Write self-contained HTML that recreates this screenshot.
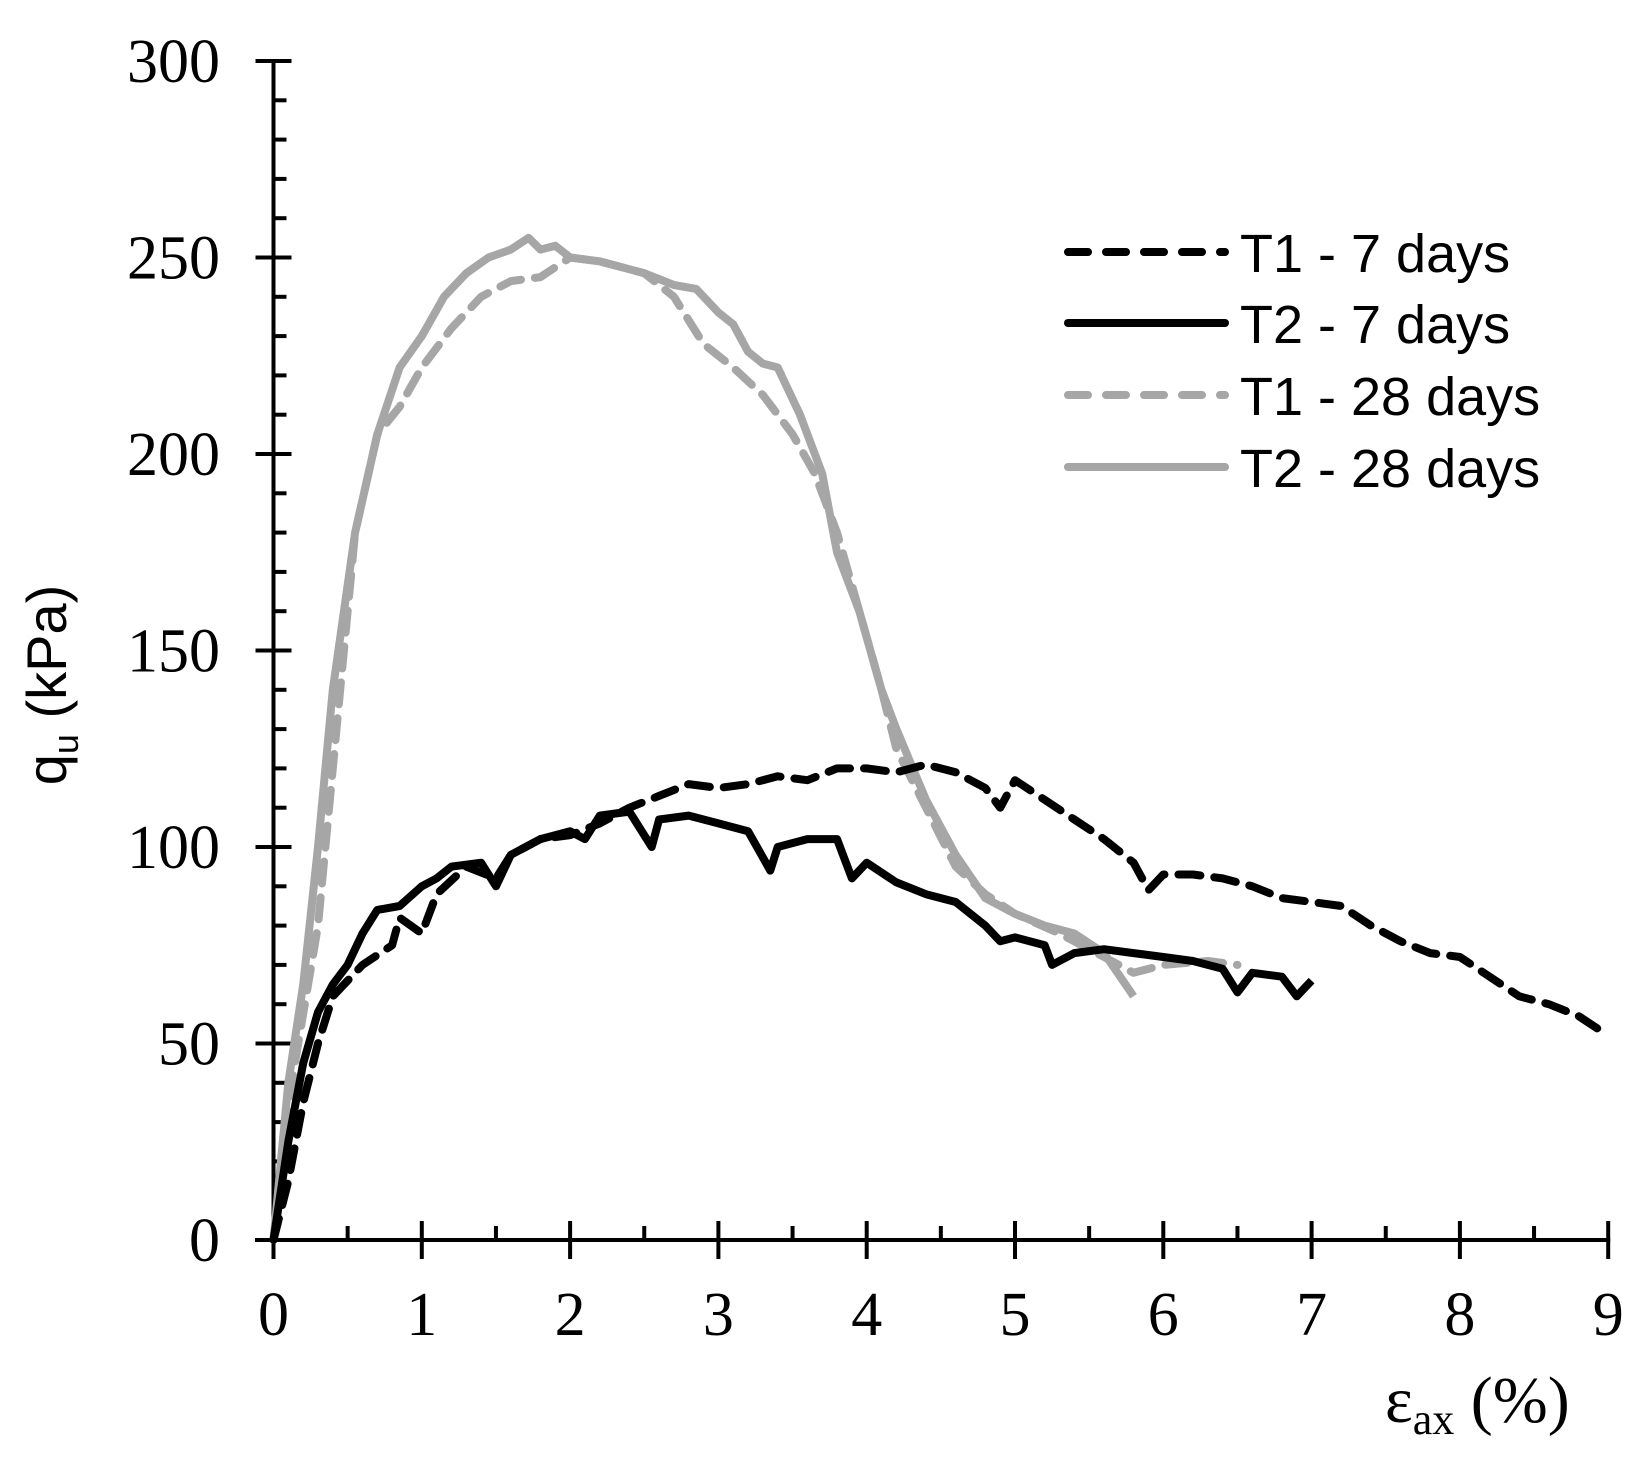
<!DOCTYPE html>
<html><head><meta charset="utf-8"><style>
html,body{margin:0;padding:0;background:#fff}
svg{display:block}
</style></head><body>
<svg id="s" width="1650" height="1464" viewBox="0 0 1650 1464" xmlns="http://www.w3.org/2000/svg">
<g id="axes" stroke="#000" stroke-width="4"></g>
<g font-family="Liberation Serif, serif" font-size="62" fill="#000" id="lab"></g>
<g id="series" fill="none" stroke-linejoin="round"></g>
<g font-family="Liberation Sans, sans-serif" font-size="54" fill="#000">
<line x1="1068" y1="252" x2="1225" y2="252" stroke="#000" stroke-width="8" stroke-linecap="round" stroke-dasharray="20 18"/>
<line x1="1068" y1="323" x2="1225" y2="323" stroke="#000" stroke-width="8" stroke-linecap="round"/>
<line x1="1068" y1="395" x2="1225" y2="395" stroke="#a6a6a6" stroke-width="8" stroke-linecap="round" stroke-dasharray="20 18"/>
<line x1="1068" y1="467" x2="1225" y2="467" stroke="#a6a6a6" stroke-width="8" stroke-linecap="round"/>
<text x="1240" y="272">T1 - 7 days</text>
<text x="1240" y="343">T2 - 7 days</text>
<text x="1240" y="415">T1 - 28 days</text>
<text x="1240" y="487">T2 - 28 days</text>
<text transform="translate(66,685) rotate(-90)" text-anchor="middle" font-size="56">q<tspan font-size="36" dy="12">u</tspan><tspan dy="-12"> (kPa)</tspan></text>
</g>
<text x="1385" y="1422" font-family="Liberation Serif, serif" font-size="66">ε<tspan font-size="44" dy="12">ax</tspan><tspan dy="-12"> (%)</tspan></text>
</svg>
<script>
const X=v=>273.5+148.3*v, Y=q=>1240-3.93*q;
const ns="http://www.w3.org/2000/svg";
const ax=document.getElementById('axes'), lab=document.getElementById('lab'), se=document.getElementById('series');
function ln(x1,y1,x2,y2){const l=document.createElementNS(ns,'line');l.setAttribute('x1',x1);l.setAttribute('y1',y1);l.setAttribute('x2',x2);l.setAttribute('y2',y2);ax.appendChild(l);}
function tx(x,y,t,a){const e=document.createElementNS(ns,'text');e.setAttribute('x',x);e.setAttribute('y',y);e.setAttribute('text-anchor',a);e.textContent=t;lab.appendChild(e);}
ln(X(0),Y(300),X(0),Y(0)+2); ln(255,Y(0),X(9)+2,Y(0));
for(let q=0;q<=300;q+=10){ if(q%50==0){ln(X(0)-18,Y(q),X(0)+18,Y(q));tx(220,Y(q)+21,q,'end');} else ln(X(0),Y(q),X(0)+13,Y(q)); }
for(let i=0;i<=18;i++){const v=i/2; if(i%2==0){ln(X(v),Y(0)-19,X(v),Y(0)+19);tx(X(v),1335,v,'middle');} else ln(X(v),Y(0)-14,X(v),Y(0));}
function path(d,col,dash){const p=document.createElementNS(ns,'path');let s='';for(let i=0;i<d.length;i+=2)s+=(i?'L':'M')+X(d[i]).toFixed(1)+','+Y(d[i+1]).toFixed(1);p.setAttribute('d',s);p.setAttribute('stroke',col);p.setAttribute('stroke-width','8');if(dash){p.setAttribute('stroke-dasharray','22 14');p.setAttribute('stroke-linecap','round');}se.appendChild(p);}
const T1_28=[0,0,0.1,35,0.3,80,0.45,140,0.55,180,0.7,205,0.85,212,1.0,222,1.2,232,1.4,240,1.6,244,1.8,245,2.0,250,2.2,249,2.5,246,2.7,240,2.9,228,3.1,222,3.3,215,3.5,205,3.65,195,3.8,180,3.95,160,4.1,140,4.2,125,4.4,110,4.6,95,4.8,88,5.0,83,5.3,78,5.6,72,5.8,68,6.0,70,6.3,71,6.5,70];
const T2_28=[0,0,0.1,40,0.2,65,0.3,100,0.4,140,0.55,180,0.7,205,0.85,222,1.0,230,1.15,240,1.3,246,1.45,250,1.6,252,1.72,255,1.8,252,1.9,253,2.0,250,2.2,249,2.5,246,2.7,243,2.85,242,3.0,236,3.1,233,3.2,226,3.3,223,3.4,222,3.55,210,3.7,195,3.8,175,3.95,160,4.1,140,4.2,130,4.4,112,4.6,98,4.8,87,5.0,83,5.2,80,5.4,78,5.6,73,5.8,62];
const T1_7=[0,0,0.1,15,0.2,35,0.3,50,0.4,62,0.6,70,0.8,75,0.85,82,1.0,78,1.1,88,1.3,95,1.5,92,1.6,98,1.8,102,2.0,103,2.2,106,2.4,110,2.6,113,2.8,116,3.0,115,3.2,116,3.4,118,3.6,117,3.8,120,4.0,120,4.2,119,4.4,121,4.6,119,4.8,115,4.9,110,5.0,117,5.2,112,5.4,107,5.6,102,5.8,96,5.9,89,6.0,93,6.2,93,6.4,92,6.6,90,6.8,87,7.0,86,7.2,85,7.4,80,7.6,76,7.8,73,8.0,72,8.2,67,8.4,62,8.6,60,8.8,57,9.0,52];
const T2_7=[0,0,0.1,25,0.2,45,0.3,58,0.4,65,0.5,70,0.6,78,0.7,84,0.85,85,1.0,90,1.1,92,1.2,95,1.4,96,1.5,90,1.6,98,1.8,102,2.0,104,2.1,102,2.2,108,2.4,109,2.55,100,2.6,107,2.8,108,3.0,106,3.2,104,3.35,94,3.4,100,3.6,102,3.8,102,3.9,92,4.0,96,4.2,91,4.4,88,4.6,86,4.8,80,4.9,76,5.0,77,5.2,75,5.25,70,5.4,73,5.6,74,5.8,73,6.0,72,6.2,71,6.4,69,6.5,63,6.6,68,6.8,67,6.9,62,7.0,66];
path(T1_28,'#a6a6a6',true);path(T2_28,'#a6a6a6',false);path(T1_7,'#000',true);path(T2_7,'#000',false);
</script>
</body></html>
